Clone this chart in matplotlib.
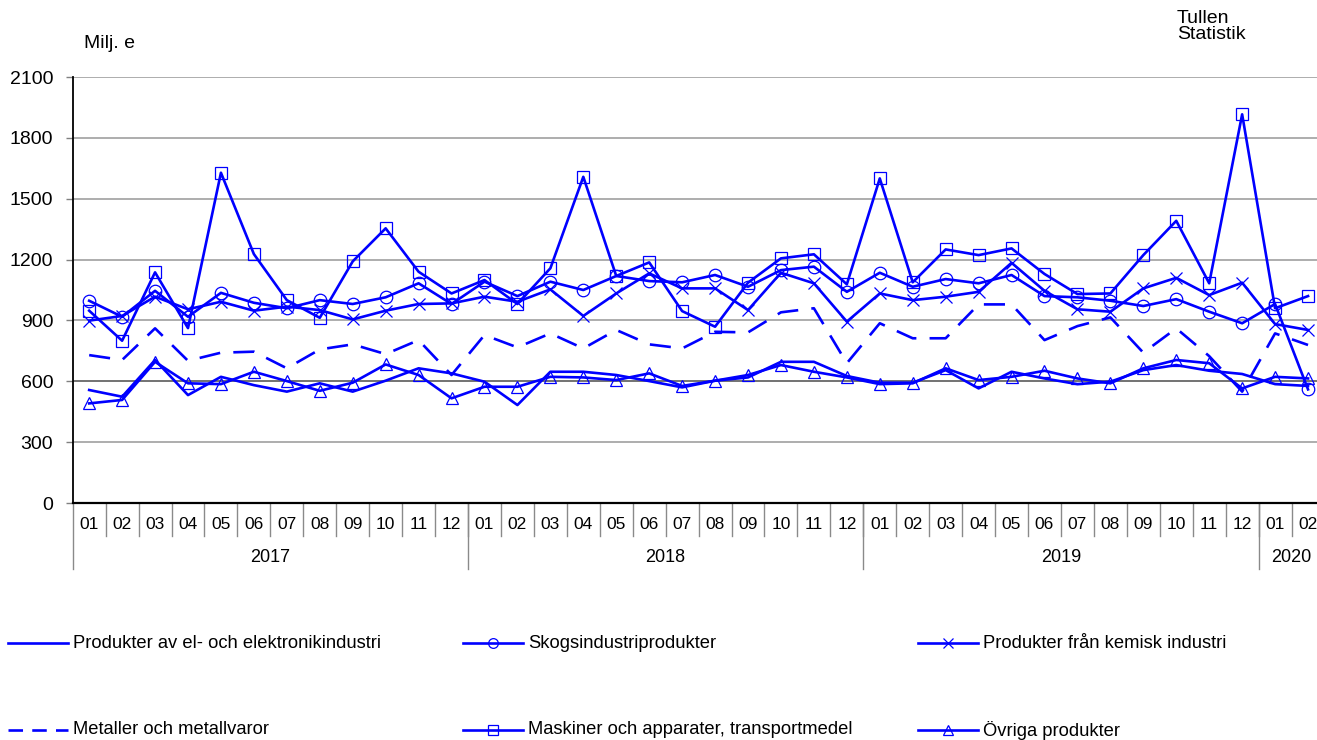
import numpy as np
import matplotlib
matplotlib.use("Agg")
import matplotlib.pyplot as plt
from matplotlib.lines import Line2D
import matplotlib.transforms as mtransforms

plt.rcParams['font.family'] = ['Liberation Sans', 'DejaVu Sans']

# months 2017-01 .. 2020-02
months = ['01', '02', '03', '04', '05', '06', '07', '08', '09', '10', '11', '12'] * 3 + ['01', '02']
years = ['2017', '2018', '2019', '2020']
year_len = [12, 12, 12, 2]

el = [557, 524, 705, 532, 622, 581, 549, 590, 549, 603, 664, 639,
      598, 483, 647, 647, 631, 601, 570, 603, 619, 696, 696, 626,
      593, 593, 655, 565, 647, 614, 586, 598, 655, 680, 652, 636,
      586, 577]
skog = [997, 918, 1046, 918, 1036, 987, 960, 1000, 981, 1014, 1083, 981,
        1091, 1020, 1091, 1050, 1119, 1094, 1088, 1124, 1066, 1148, 1165, 1041,
        1135, 1066, 1104, 1083, 1124, 1020, 1014, 997, 971, 1005, 943, 886,
        981, 560]
kemi = [899, 922, 1017, 955, 992, 948, 968, 951, 905, 948, 981, 984,
        1017, 992, 1053, 922, 1033, 1132, 1058, 1058, 951, 1135, 1083, 894,
        1033, 1000, 1017, 1041, 1184, 1046, 955, 943, 1058, 1110, 1025, 1086,
        882, 853]
metall = [729, 705, 861, 701, 741, 746, 664, 757, 782, 734, 803, 631,
          828, 767, 836, 762, 853, 782, 762, 844, 841, 940, 960, 689,
          886, 812, 812, 979, 979, 803, 872, 915, 741, 861, 724, 549,
          836, 779]
maskin = [948, 800, 1137, 862, 1628, 1227, 1000, 913, 1191, 1354, 1140, 1033,
          1099, 981, 1157, 1608, 1119, 1186, 946, 869, 1086, 1206, 1226, 1078,
          1600, 1088, 1250, 1222, 1255, 1129, 1030, 1033, 1222, 1391, 1083, 1916,
          960, 1020]
ovriga = [491, 508, 696, 590, 586, 647, 601, 553, 593, 683, 631, 516,
          573, 573, 622, 619, 606, 639, 577, 603, 631, 680, 647, 619,
          586, 590, 664, 606, 622, 652, 614, 590, 664, 705, 689, 565,
          622, 614]

labels = ['Produkter av el- och elektronikindustri', 'Skogsindustriprodukter',
          'Produkter från kemisk industri', 'Metaller och metallvaror',
          'Maskiner och apparater, transportmedel', 'Övriga produkter']

blue = '#0000ff'
W, H = 1317, 740
fig = plt.figure(figsize=(W / 100, H / 100), dpi=100)
ax = fig.add_axes([72.7 / W, 1 - 503 / H, 1251.8 / W, 426 / H])

x = np.arange(len(months))
series = [el, skog, kemi, metall, maskin, ovriga]
styles = [dict(ls='-', marker=None),
          dict(ls='-', marker='o'),
          dict(ls='-', marker='x'),
          dict(ls=(0, (8, 5)), marker=None),
          dict(ls='-', marker='s'),
          dict(ls='-', marker='^')]
for ys, st in zip(series, styles):
    ax.plot(x, ys, color=blue, lw=1.9, ls=st['ls'], marker=st['marker'], ms=9,
            mfc='none', mec=blue, mew=0.9, zorder=3)

ax.set_xlim(-0.5, len(months) - 0.5)
ax.set_ylim(0, 2100)
ax.set_yticks(np.arange(0, 2101, 300))
for v in np.arange(0, 2101, 300):
    ax.axhline(v, color='#5a5a5a' if v == 600 else '#a0a0a0', lw=1.2, zorder=1)
ax.tick_params(axis='y', labelsize=14, length=5, width=1, pad=9, color='#808080')
ax.spines['top'].set_visible(False)
ax.spines['right'].set_visible(False)
ax.spines['left'].set_linewidth(1.3)
ax.spines['bottom'].set_linewidth(1.6)

# category axis
ax.set_xticks(x)
ax.set_xticklabels(months, fontsize=12.5)
ax.tick_params(axis='x', length=0, pad=10)
trans = mtransforms.blended_transform_factory(ax.transData, ax.transAxes)
for b in range(1, len(months)):
    ax.plot([b - 0.5, b - 0.5], [0, -33 / 426], transform=trans, color='#8a8a8a',
            lw=1, clip_on=False)
start = 0
for yr, n in zip(years, year_len):
    ax.plot([start - 0.5, start - 0.5], [0, -66 / 426], transform=trans,
            color='#8a8a8a', lw=1, clip_on=False)
    ax.text(start + n / 2 - 0.5, -54 / 426, yr, transform=trans, ha='center',
            va='center', fontsize=13)
    start += n

fig.text(84 / W, 1 - 43 / H, 'Milj. e', fontsize=14, ha='left', va='center')
fig.text(1177 / W, 1 - 10 / H, 'Tullen\nStatistik', fontsize=14, ha='left',
         va='top', linespacing=0.95)

# legend, drawn by hand
cols = [8, 463, 918]
rows = [643, 730]
for i, (lab, st) in enumerate(zip(labels, styles)):
    x0 = cols[i % 3]
    y0 = 1 - rows[i // 3] / H
    ls = (0, (5.5, 3.5)) if i == 3 else '-'
    fig.add_artist(Line2D([x0 / W, (x0 + 60) / W], [y0, y0], color=blue, lw=1.9, ls=ls))
    if st['marker']:
        fig.add_artist(Line2D([(x0 + 30) / W], [y0], marker=st['marker'], ms=7,
                              mfc='none', mec=blue, mew=0.9, ls='none'))
    fig.text((x0 + 65) / W, y0, lab, fontsize=13.2, ha='left', va='center')

fig.savefig('out.png', dpi=100)
